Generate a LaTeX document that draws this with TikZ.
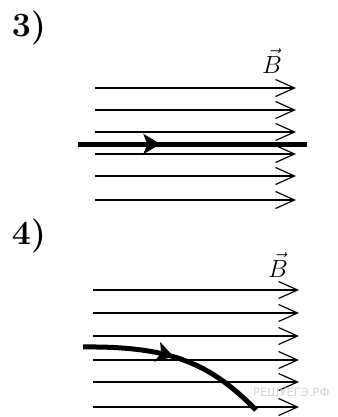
\documentclass[tikz,border=0pt]{standalone}
\usepackage{fontspec}
\newfontfamily\wmfont{DejaVu Sans}
\usetikzlibrary{arrows.meta,decorations.markings}

\begin{document}
\begin{tikzpicture}[x=1pt, y=-1pt,
    numlabel/.style={font=\fontsize{34}{36}\selectfont\bfseries, inner sep=0pt},
    bvec/.style={font=\fontsize{27}{29}\selectfont, inner sep=0pt},
    fieldline/.style={line width=1.2pt, -{Straight Barb[length=19pt, width=17pt]}},
    conductor/.style={line width=5pt, postaction={decorate},
        decoration={markings, mark=at position #1 with {\arrow{Stealth[length=17pt, width=20pt, inset=4pt]}}}},
]
    \useasboundingbox (0,0) rectangle (337,417);

    % 3) straight conductor along the field
    \node[numlabel] (lab3) at (29,28) {3)};
    \node[bvec] (B3) at (272,61) {$\vec{B}$};
    \foreach \y [count=\i] in {88,110,132,154,176,200} {
        \coordinate (s3\i) at (95,\y);
        \coordinate (e3\i) at (296,\y);
        \draw[fieldline] (s3\i) -- (e3\i);
    }
    \coordinate (w3a) at (78,144);
    \coordinate (w3b) at (307,144);
    \draw[conductor=0.36] (w3a) -- (w3b);

    % 4) bent conductor
    \node[numlabel] (lab4) at (29,236) {4)};
    \node[bvec] (B4) at (278,265) {$\vec{B}$};
    \foreach \y [count=\i] in {290,313,336,360,382,407} {
        \coordinate (s4\i) at (93,\y);
        \coordinate (e4\i) at (299,\y);
        \draw[fieldline] (s4\i) -- (e4\i);
    }
    \coordinate (w4a) at (83,347);
    \coordinate (w4b) at (256,410);
    \draw[conductor=0.48] (w4a) .. controls (170,346) and (210,363) .. (w4b);

    % watermark
    \node[font=\wmfont\fontsize{11.5}{12}\selectfont, text=gray!35, anchor=west, inner sep=0pt] (wm) at (253,392) {РЕШУЕГЭ.РФ};
\end{tikzpicture}
\end{document}
